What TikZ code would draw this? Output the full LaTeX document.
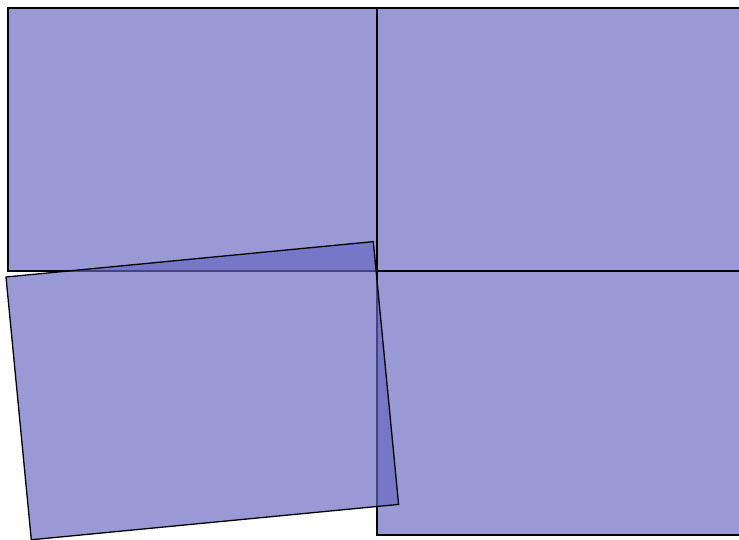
\documentclass[tikz,border=0pt]{standalone}
\begin{document}
\begin{tikzpicture}[x=1pt,y=-1pt,
  panel/.style={draw=black,line width=1.3pt,fill={rgb,1:red,0.4;green,0.4;blue,0.76},fill opacity=0.667,line join=miter}]
\useasboundingbox (0,0) rectangle (739,540);
\path[fill=white] (0,0) rectangle (739,540);
\draw[panel] (8,8) rectangle (377,271);
\draw[panel] (377,8) rectangle (746,271);
\draw[panel] (377,271) rectangle (746,535);
\begin{scope}[shift={(6,277)},rotate=5.5]
\draw[panel] (0,0) rectangle (369,264);
\end{scope}
\end{tikzpicture}
\end{document}
